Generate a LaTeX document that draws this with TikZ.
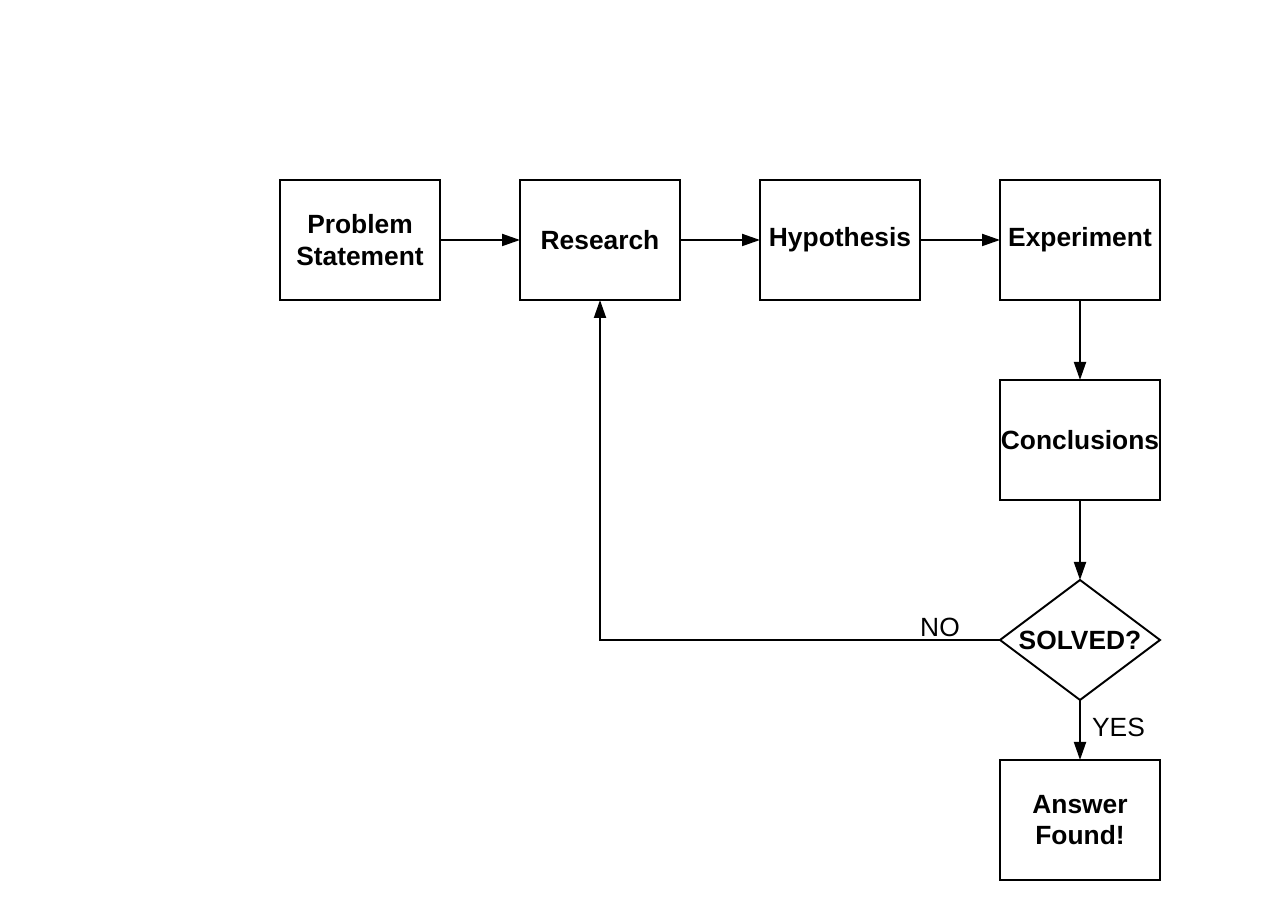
\documentclass[tikz,border=0pt]{standalone}
\usepackage{fontspec}
\setmainfont{Liberation Sans}
\usetikzlibrary{shapes.geometric, arrows.meta, positioning}

\begin{document}
\begin{tikzpicture}[
  node distance=1.6cm,
  box/.style={rectangle, draw, line width=1.1pt, outer sep=0pt,
              minimum width=3.2cm, minimum height=2.4cm,
              inner sep=0pt, align=center,
              font=\fontsize{15}{18}\selectfont\bfseries},
  decision/.style={diamond, draw, line width=1.1pt, aspect=1.333,
              outer sep=0pt, minimum width=3.2cm, minimum height=2.4cm,
              inner sep=0pt, align=center,
              font=\fontsize{15}{18}\selectfont\bfseries},
  arrow/.style={-{Triangle[length=0.36cm, width=0.24cm]}, line width=1.1pt},
  lbl/.style={font=\fontsize{15}{18}\selectfont},
]
  \useasboundingbox (0,0) rectangle (25.6,18.4);

  \node[box] (problem) at (7.2,13.6) {Problem\\Statement};
  \node[box, right=of problem]     (research)    {Research};
  \node[box, right=of research]    (hypothesis)  {Hypothesis};
  \node[box, right=of hypothesis]  (experiment)  {Experiment};
  \node[box, below=of experiment]  (conclusions) {Conclusions};
  \node[decision, below=of conclusions] (solved) {SOLVED?};
  \node[box, below=1.2cm of solved] (answer)     {Answer\\Found!};

  \draw[arrow] (problem)     -- (research);
  \draw[arrow] (research)    -- (hypothesis);
  \draw[arrow] (hypothesis)  -- (experiment);
  \draw[arrow] (experiment)  -- (conclusions);
  \draw[arrow] (conclusions) -- (solved);
  \draw[arrow] (solved) -- node[lbl, right=3pt, pos=0.45] {YES} (answer);
  \draw[arrow] (solved.west) -- node[lbl, above=-2pt, pos=0.15] {NO}
    (research.south |- solved.west) -- (research.south);
\end{tikzpicture}
\end{document}
